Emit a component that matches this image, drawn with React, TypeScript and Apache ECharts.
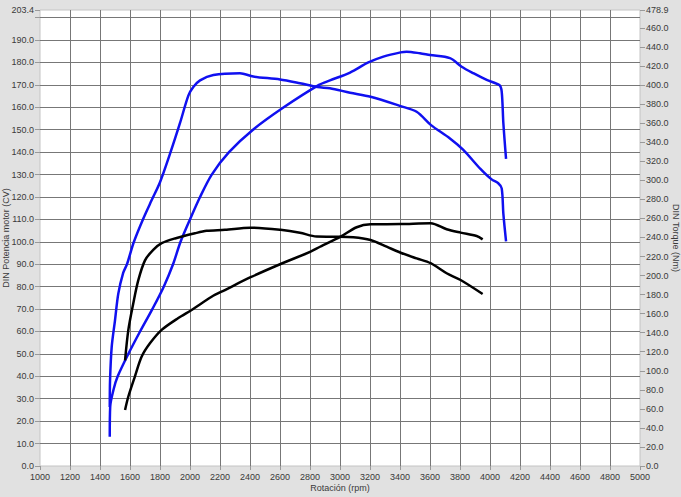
import React, { useEffect, useRef } from "react";
import * as echarts from "echarts";

// Tuned power (CV, left axis)
const powerTunedRpm = [1465, 1468, 1490, 1518, 1589, 1667, 1749, 1825, 1887, 1937, 2000, 2067, 2145, 2260, 2420, 2625, 2860, 2933, 3067, 3189, 3289, 3404, 3444, 3533, 3600, 3733, 3811, 3889, 3978, 4062, 4078, 4089, 4107];
const powerTunedCV = [13, 26.5, 34, 40, 50, 60, 70, 80, 90, 100, 110, 120, 130, 140, 150, 160, 170, 172, 175.5, 180, 182.6, 184.5, 184.8, 184.1, 183.3, 181.9, 178.1, 175.2, 172.2, 169.9, 167, 153, 137];

// Tuned torque (Nm, right axis)
const torqueTunedRpm = [1465, 1467, 1478, 1500, 1522, 1555, 1580, 1625, 1689, 1744, 1800, 1867, 1933, 1989, 2022, 2067, 2156, 2333, 2422, 2600, 2733, 2850, 2933, 3067, 3204, 3404, 3511, 3607, 3733, 3822, 3933, 4011, 4055, 4078, 4089, 4107];
const torqueTunedNm = [62, 90, 125, 153, 181, 203, 212, 235, 260, 279, 298, 328, 360, 389, 398, 405, 410.6, 412.4, 409, 406, 402, 398, 396.7, 392, 387.8, 378, 372, 358, 344, 332, 312.6, 301, 297, 291.6, 265, 236];

// Stock power (CV, left axis)
const powerStockRpm = [1567, 1589, 1633, 1678, 1733, 1811, 1922, 2011, 2144, 2233, 2404, 2604, 2804, 2867, 3004, 3111, 3204, 3404, 3604, 3711, 3804, 3911, 3951];
const powerStockCV = [25, 31, 40, 48.8, 54.7, 60.7, 66, 69.6, 75.5, 78.5, 84.2, 90.1, 95.6, 97.8, 102.3, 106.5, 107.8, 107.9, 108.3, 105.6, 104.1, 102.6, 101.1];

// Stock torque (Nm, right axis)
const torqueStockRpm = [1567, 1589, 1622, 1655, 1700, 1755, 1811, 1900, 2033, 2111, 2233, 2400, 2604, 2733, 2844, 2956, 3089, 3204, 3311, 3404, 3511, 3604, 3711, 3804, 3951];
const torqueStockNm = [111, 143, 171, 195, 216, 227, 234, 239, 244.4, 247, 248, 250.3, 248, 245, 241, 240.8, 240.2, 237.3, 230.3, 224, 218, 213, 202.4, 195.3, 180.6];

const xName = "Rotación (rpm)";
const leftName = "DIN Potencia motor (CV)";
const rightName = "DIN Torque (Nm)";
const xMin = 1000, xMax = 5000, xStep = 200;
const leftMax = 203.4, leftStep = 10;
const rightMax = 478.9, rightStep = 20;

const zip = (a: number[], b: number[]) => a.map((v, i) => [v, b[i]]);

export default function App() {
  const ref = useRef<HTMLDivElement>(null);
  useEffect(() => {
    if (!ref.current) return;
    const chart = echarts.init(ref.current, null, { renderer: "svg" });
    const font = "Liberation Sans, Arial, sans-serif";
    const labelColor = "#3a3a3a";
    const gridColor = "#777";
    const lineCommon = { type: "line", showSymbol: false, smooth: 0.3 };
    chart.setOption({
      animation: false,
      backgroundColor: "#e1e1e1",
      grid: {
        left: 40, right: 41, top: 10, bottom: 31,
        outerBoundsMode: "none", containLabel: false,
        show: true, backgroundColor: "#ffffff", borderColor: "#c4c4c4", borderWidth: 1,
      },
      xAxis: {
        type: "value", min: xMin, max: xMax, interval: xStep,
        name: xName, nameLocation: "middle", nameGap: 17, nameMoveOverlap: false,
        nameTextStyle: { color: labelColor, fontSize: 9, fontFamily: font },
        axisLine: { show: false },
        axisTick: { show: true, length: 4, lineStyle: { color: "#999" } },
        axisLabel: { color: labelColor, fontSize: 9, fontFamily: font, margin: 6, formatter: (v: number) => String(Math.round(v)) },
        splitLine: { show: true, showMinLine: false, showMaxLine: false, lineStyle: { color: gridColor, width: 1 } },
      },
      yAxis: [
        {
          type: "value", min: 0, max: leftMax, interval: leftStep, position: "left",
          name: leftName, nameLocation: "middle", nameGap: 30, nameMoveOverlap: false,
          nameTextStyle: { color: labelColor, fontSize: 9, fontFamily: font },
          axisLine: { show: false },
          axisTick: { show: true, length: 5, lineStyle: { color: "#999" } },
          axisLabel: {
            color: labelColor, fontSize: 9, fontFamily: font, margin: 6,
            formatter: (v: number) => (Math.abs(v - 200) < 1e-6 ? "" : v.toFixed(1)),
          },
          splitLine: { show: true, showMinLine: false, showMaxLine: false, lineStyle: { color: gridColor, width: 1 } },
        },
        {
          type: "value", min: 0, max: rightMax, interval: rightStep, position: "right",
          name: rightName, nameLocation: "middle", nameGap: 31, nameRotate: -90, nameMoveOverlap: false,
          nameTextStyle: { color: labelColor, fontSize: 9, fontFamily: font },
          axisLine: { show: false },
          axisTick: { show: true, length: 5, lineStyle: { color: "#999" } },
          axisLabel: { color: labelColor, fontSize: 9, fontFamily: font, margin: 6, formatter: (v: number) => v.toFixed(1) },
          splitLine: { show: false },
        },
      ],
      series: [
        { ...lineCommon, yAxisIndex: 0, data: zip(powerTunedRpm, powerTunedCV), lineStyle: { color: "#1010f0", width: 2.5 } },
        { ...lineCommon, yAxisIndex: 1, data: zip(torqueTunedRpm, torqueTunedNm), lineStyle: { color: "#1010f0", width: 2.5 } },
        { ...lineCommon, yAxisIndex: 0, data: zip(powerStockRpm, powerStockCV), lineStyle: { color: "#000", width: 2.5 } },
        { ...lineCommon, yAxisIndex: 1, data: zip(torqueStockRpm, torqueStockNm), lineStyle: { color: "#000", width: 2.5 } },
      ],
    });
    return () => chart.dispose();
  }, []);
  return <div ref={ref} style={{ width: 681, height: 497, position: "absolute", left: 0, top: 0 }} />;
}
